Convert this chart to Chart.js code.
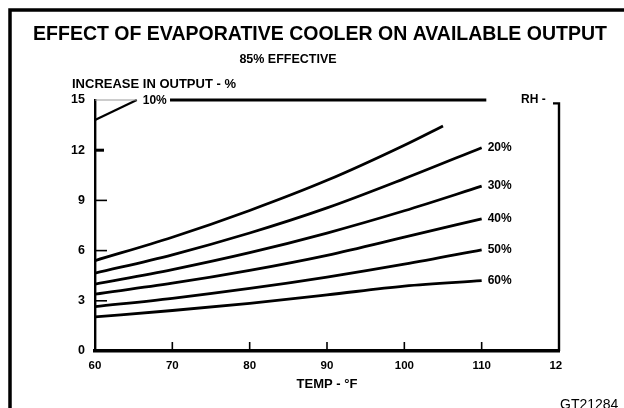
<!DOCTYPE html>
<html>
<head>
<meta charset="utf-8">
<script src="https://cdn.jsdelivr.net/npm/chart.js@4/dist/chart.umd.min.js"></script>
<style>
html, body { margin: 0; padding: 0; background: #fff; }
#wrap { width: 624px; height: 408px; position: relative; }
</style>
</head>
<body>
<div id="wrap"><canvas id="c" width="624" height="408"></canvas></div>
<script>
// Output increase (%) against ambient temperature (°F) for each relative humidity
const temps   = [60, 70, 80, 90, 100, 110];
const temps10 = [60, 70, 80, 90, 100, 105];
const rh10 = [5.4, 6.8, 8.4, 10.2, 12.3, 13.45];
const rh20 = [4.65, 5.75, 7.05, 8.55, 10.3, 12.15];
const rh30 = [4.0, 4.87, 5.88, 7.05, 8.38, 9.85];
const rh40 = [3.4, 4.05, 4.82, 5.72, 6.8, 7.9];
const rh50 = [2.65, 3.15, 3.74, 4.42, 5.19, 6.05];
const rh60 = [2.04, 2.42, 2.85, 3.35, 3.88, 4.2];
const rhLabels = ['10%', '20%', '30%', '40%', '50%', '60%'];

const xTicks = [60, 70, 80, 90, 100, 110, 120];
const yTicks = [0, 3, 6, 9, 12, 15];

// leader from the 10% curve start to its label, and the upper rule at 15%
const leader10X = [60, 65.4];
const leader10Y = [13.8, 15];
const topRuleX = [69.7, 110.6];
const topRuleY = [15, 15];

const FONT = '"Liberation Sans", Arial, Helvetica, sans-serif';

const pts = (xs, ys) => xs.map((v, i) => ({ x: v, y: ys[i] }));

const curveStyle = {
  borderColor: '#000',
  borderWidth: 2.8,
  pointRadius: 0,
  fill: false,
  tension: 0.4,
  cubicInterpolationMode: 'monotone'
};

const curves = [
  { data: pts(temps10, rh10) },
  { data: pts(temps, rh20) },
  { data: pts(temps, rh30) },
  { data: pts(temps, rh40) },
  { data: pts(temps, rh50) },
  { data: pts(temps, rh60) }
].map((d, i) => Object.assign({ label: rhLabels[i] }, curveStyle, d));

const extras = [
  { label: 'leader', data: pts(leader10X, leader10Y), borderColor: '#000', borderWidth: 2.2, pointRadius: 0, tension: 0, clip: false },
  { label: 'rule', data: pts(topRuleX, topRuleY), borderColor: '#000', borderWidth: 2.8, pointRadius: 0, tension: 0, clip: false }
];

const decor = {
  id: 'decor',
  beforeDraw(chart) {
    const ctx = chart.ctx;
    ctx.save();
    ctx.fillStyle = '#fff';
    ctx.fillRect(0, 0, chart.width, chart.height);
    // outer frame of the figure
    ctx.strokeStyle = '#000';
    ctx.lineWidth = 3.5;
    ctx.beginPath();
    ctx.moveTo(10, 410);
    ctx.lineTo(10, 10);
    ctx.lineTo(630, 10);
    ctx.stroke();
    ctx.restore();
  },
  afterDraw(chart) {
    const { ctx, scales: { x, y } } = chart;
    ctx.save();
    ctx.fillStyle = '#000';
    ctx.strokeStyle = '#000';
    ctx.textBaseline = 'middle';

    // headings
    ctx.textAlign = 'center';
    ctx.font = 'bold 19.5px ' + FONT;
    ctx.fillText('EFFECT OF EVAPORATIVE COOLER ON AVAILABLE OUTPUT', 320, 35);
    ctx.font = 'bold 12.5px ' + FONT;
    ctx.fillText('85% EFFECTIVE', 288, 60);

    ctx.textAlign = 'left';
    ctx.font = 'bold 13px ' + FONT;
    ctx.fillText('INCREASE IN OUTPUT - %', 72, 84);

    // faint top edge of the plot between the axis and the 10% leader
    ctx.strokeStyle = '#999';
    ctx.lineWidth = 1;
    ctx.beginPath();
    ctx.moveTo(x.getPixelForValue(60), y.getPixelForValue(15));
    ctx.lineTo(x.getPixelForValue(leader10X[1]), y.getPixelForValue(15));
    ctx.stroke();
    ctx.strokeStyle = '#000';

    // 10% label at the end of its leader
    ctx.font = 'bold 12px ' + FONT;
    ctx.fillText(rhLabels[0], x.getPixelForValue(leader10X[1]) + 6, y.getPixelForValue(15) + 1);

    // RH bracket and right edge of the plot
    const xr = x.getPixelForValue(120);
    const yTop = y.getPixelForValue(14.8);
    ctx.fillText('RH -', 521, 100);
    ctx.lineWidth = 2.4;
    ctx.beginPath();
    ctx.moveTo(553, yTop);
    ctx.lineTo(xr, yTop);
    ctx.lineTo(xr, y.getPixelForValue(0));
    ctx.stroke();

    // labels at the right end of each curve
    const ends = [rh20, rh30, rh40, rh50, rh60];
    ends.forEach((arr, i) => {
      ctx.fillText(rhLabels[i + 1], x.getPixelForValue(temps[temps.length - 1]) + 6,
        y.getPixelForValue(arr[arr.length - 1]));
    });

    // inward tick marks on the value axis
    yTicks.slice(1, -1).forEach(v => {
      const py = y.getPixelForValue(v);
      ctx.lineWidth = v === 12 ? 3 : 1.6;
      ctx.beginPath();
      ctx.moveTo(x.left, py);
      ctx.lineTo(x.left + (v === 12 ? 9 : 12), py);
      ctx.stroke();
    });
    // upward tick marks on the temperature axis
    ctx.lineWidth = 1.6;
    xTicks.slice(1, -1).forEach(v => {
      const px = x.getPixelForValue(v);
      ctx.beginPath();
      ctx.moveTo(px, y.bottom);
      ctx.lineTo(px, y.bottom - 9);
      ctx.stroke();
    });

    // the last temperature label runs off the trimmed edge
    ctx.fillStyle = '#fff';
    ctx.fillRect(562, 355, 20, 20);

    // drawing number
    ctx.fillStyle = '#000';
    ctx.font = '14px ' + FONT;
    ctx.fillText('GT21284', 560, 405);
    ctx.restore();
  }
};

new Chart(document.getElementById('c'), {
  type: 'line',
  data: { datasets: curves.concat(extras) },
  options: {
    responsive: false,
    animation: false,
    devicePixelRatio: 1,
    layout: { padding: { top: 100, right: 65, bottom: 0, left: 0 } },
    plugins: { legend: { display: false }, tooltip: { enabled: false }, title: { display: false } },
    scales: {
      x: {
        type: 'linear',
        min: 60,
        max: 120,
        grid: { display: false, drawTicks: false },
        border: { display: true, color: '#000', width: 3.5 },
        ticks: { color: '#000', padding: 8, font: { family: FONT, size: 11.5, weight: 'bold' } },
        title: { display: true, text: 'TEMP - °F', color: '#000', font: { family: FONT, size: 13, weight: 'bold' }, padding: { top: 0, bottom: 16 } },
        afterBuildTicks(s) { s.ticks = xTicks.map(v => ({ value: v })); },
        afterFit(s) { s.height = 57; }
      },
      y: {
        type: 'linear',
        min: 0,
        max: 15,
        grid: { display: false, drawTicks: false },
        border: { display: true, color: '#000', width: 2.4 },
        ticks: { color: '#000', padding: 10, font: { family: FONT, size: 12.5, weight: 'bold' } },
        afterBuildTicks(s) { s.ticks = yTicks.map(v => ({ value: v })); },
        afterFit(s) { s.width = 95; }
      }
    }
  },
  plugins: [decor]
});
</script>
</body>
</html>
